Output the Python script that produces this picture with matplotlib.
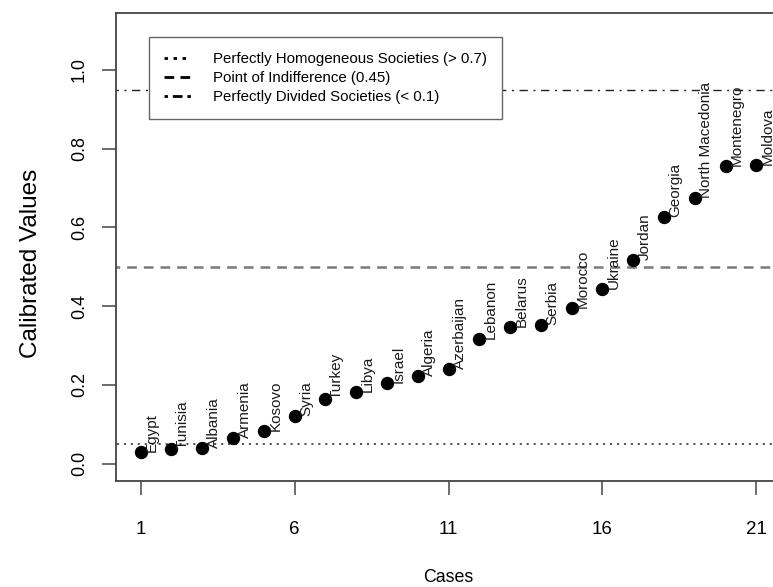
import matplotlib.pyplot as plt

plt.rcParams['font.family'] = ['Liberation Sans', 'DejaVu Sans']
plt.rcParams['lines.scale_dashes'] = False

# cases ordered by calibrated value
cases = list(range(1, 22))
countries = ['Egypt', 'Tunisia', 'Albania', 'Armenia', 'Kosovo', 'Syria', 'Turkey',
             'Libya', 'Israel', 'Algeria', 'Azerbaijan', 'Lebanon', 'Belarus', 'Serbia',
             'Morocco', 'Ukraine', 'Jordan', 'Georgia', 'North Macedonia', 'Montenegro',
             'Moldova']
values = [0.030, 0.037, 0.041, 0.065, 0.082, 0.120, 0.165, 0.182, 0.206, 0.223,
          0.241, 0.316, 0.348, 0.351, 0.396, 0.444, 0.517, 0.626, 0.675, 0.755, 0.759]

# thresholds drawn as horizontal lines
thr_homogeneous = 0.05
thr_indifference = 0.5
thr_divided = 0.95

x_ticks = [1, 6, 11, 16, 21]
y_ticks = [0.0, 0.2, 0.4, 0.6, 0.8, 1.0]

fig = plt.figure(figsize=(7.73, 5.87), dpi=100)
ax = fig.add_axes([0.1497, 0.1806, 0.8607, 0.7968])

ax.plot(cases, values, 'o', color='black', markersize=8.6, zorder=3)

for c, v, name in zip(cases, values, countries):
    ax.annotate(name, xy=(c, v), xytext=(8.3, 0), textcoords='offset points',
                rotation=90, ha='center', va='bottom', fontsize=11, color='#1a1a1a')

l1, = ax.plot([0, 30], [thr_homogeneous] * 2, color='#444444', lw=1.3, dashes=(1.5, 3.5))
l2, = ax.plot([0, 30], [thr_indifference] * 2, color='#7a7a7a', lw=1.8, dashes=(7, 5))
l3, = ax.plot([0, 30], [thr_divided] * 2, color='#222222', lw=1.0, dashes=(6, 4, 1.5, 4))

ax.set_xlim(0.19, 21.8)
ax.set_ylim(-0.044, 1.144)
ax.set_xticks(x_ticks)
ax.set_xticklabels([str(t) for t in x_ticks], fontsize=13.5)
ax.set_yticks(y_ticks)
ax.set_yticklabels(['{:.1f}'.format(t) for t in y_ticks], fontsize=13, rotation=90, va='center')
ax.tick_params(axis='both', direction='out', length=10, width=1.1, color='#444444')
ax.tick_params(axis='x', pad=19)
ax.tick_params(axis='y', pad=10)
for s in ax.spines.values():
    s.set_linewidth(1.3)
    s.set_color('#444444')

ax.set_xlabel('Cases', fontsize=12.8, labelpad=22)
ax.set_ylabel('Calibrated Values', fontsize=17.5)
ax.yaxis.set_label_coords(-0.111, 0.465)

leg = ax.legend([l1, l2, l3],
                ['Perfectly Homogeneous Societies (> 0.7)',
                 'Point of Indifference (0.45)',
                 'Perfectly Divided Societies (< 0.1)'],
                loc='upper left', bbox_to_anchor=(0.050, 0.949), borderaxespad=0,
                fontsize=10.8, fancybox=False, framealpha=1, edgecolor='#666666',
                handlelength=1.8, handletextpad=1.5, labelspacing=0.33, borderpad=1.0)
leg.get_frame().set_linewidth(1.0)
leg_dashes = [(2.5, 4), (7, 4.5), (2.5, 3.5, 7, 3.5)]
for line, d in zip(leg.get_lines(), leg_dashes):
    line.set_color('black')
    line.set_linewidth(2.0)
    line.set_dashes(d)

fig.savefig('out.png', dpi=100)
